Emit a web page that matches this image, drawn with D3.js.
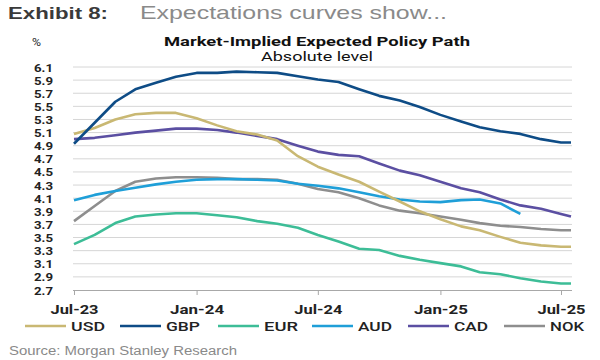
<!DOCTYPE html>
<html><head><meta charset="utf-8">
<script src="https://cdn.jsdelivr.net/npm/d3@7"></script>
<style>
body{margin:0;background:#fff;}
svg{display:block;}
</style></head>
<body>
<svg id="c" width="600" height="360"></svg>
<script>
const months = ["2023-07","2023-08","2023-09","2023-10","2023-11","2023-12","2024-01","2024-02","2024-03","2024-04","2024-05","2024-06","2024-07","2024-08","2024-09","2024-10","2024-11","2024-12","2025-01","2025-02","2025-03","2025-04","2025-05","2025-06","2025-07","2025-07-16"];
const usd = [5.08,5.17,5.30,5.38,5.40,5.40,5.32,5.21,5.12,5.07,4.98,4.74,4.58,4.46,4.35,4.20,4.05,3.90,3.78,3.67,3.61,3.51,3.42,3.38,3.36,3.36];
const gbp = [4.93,5.25,5.57,5.76,5.86,5.95,6.01,6.01,6.03,6.02,6.01,5.96,5.91,5.87,5.76,5.66,5.59,5.49,5.37,5.27,5.18,5.12,5.08,5.00,4.95,4.95];
const eur = [3.40,3.54,3.72,3.82,3.85,3.87,3.87,3.84,3.81,3.75,3.71,3.65,3.54,3.44,3.33,3.31,3.22,3.16,3.11,3.06,2.97,2.94,2.88,2.83,2.80,2.80];
const aud = [4.07,4.15,4.21,4.26,4.31,4.35,4.38,4.39,4.39,4.38,4.37,4.32,4.29,4.25,4.19,4.13,4.08,4.05,4.04,4.07,4.08,4.02,3.86,null,null,null];
const cad = [5.00,5.02,5.06,5.10,5.13,5.16,5.16,5.14,5.10,5.05,5.00,4.90,4.81,4.76,4.74,4.63,4.52,4.45,4.35,4.25,4.19,4.08,3.99,3.94,3.86,3.82];
const nok = [3.75,3.98,4.21,4.35,4.40,4.42,4.42,4.41,4.39,4.39,4.38,4.32,4.24,4.19,4.10,3.99,3.91,3.87,3.82,3.77,3.72,3.68,3.66,3.63,3.61,3.61];
const seriesNames = ["USD","GBP","EUR","AUD","CAD","NOK"];
const yTicks = [6.1,5.9,5.7,5.5,5.3,5.1,4.9,4.7,4.5,4.3,4.1,3.9,3.7,3.5,3.3,3.1,2.9,2.7];
const xTicks = ["2023-07","2024-01","2024-07","2025-01","2025-07"];
const xTickLabels = ["Jul-23","Jan-24","Jul-24","Jan-25","Jul-25"];

const colors = {USD:"#c9b873",GBP:"#0e4c86",EUR:"#3dbd97",AUD:"#1f9fd8",CAD:"#5b4fa2",NOK:"#8e8e8e"};
const values = {USD:usd,GBP:gbp,EUR:eur,AUD:aud,CAD:cad,NOK:nok};
const parse = s => s.length>7 ? d3.timeParse("%Y-%m-%d")(s) : d3.timeParse("%Y-%m")(s);
const dates = months.map(parse);

const svg = d3.select("#c");
const x = d3.scaleTime().domain([parse("2023-07"), parse("2025-07")]).range([74, 561]);
const y = d3.scaleLinear().domain([2.7, 6.1]).range([290, 67]);
const gridX0 = 73, gridX1 = 572;
const F = "Roboto, sans-serif";

function txt(xp, yp, s, size, opts={}) {
  const t = svg.append("text").attr("x",xp).attr("y",yp).attr("font-family",opts.family||F)
    .attr("font-size",size).attr("fill",opts.fill||"#111").text(s);
  if (opts.weight) t.attr("font-weight",opts.weight);
  if (opts.anchor) t.attr("text-anchor",opts.anchor);
  if (opts.len) t.attr("textLength",opts.len).attr("lengthAdjust","spacingAndGlyphs");
  return t;
}

// header
txt(8, 19, "Exhibit 8:", 17, {weight:"bold", fill:"#3a3a3a", family:"Liberation Sans, Arial, sans-serif", len:100});
txt(140, 19, "Expectations curves show...", 19, {fill:"#8a8a8a", family:"Liberation Sans, Arial, sans-serif", len:307});

// chart titles
txt(317, 46, "Market-Implied Expected Policy Path", 12.5, {weight:"bold", anchor:"middle", len:306});
txt(317, 60.5, "Absolute level", 12.5, {anchor:"middle", len:112});
txt(32, 46, "%", 11, {fill:"#222", len:9});

// gridlines
svg.append("g").selectAll("line").data(yTicks.filter(v=>v>2.7)).join("line")
  .attr("x1",gridX0).attr("x2",gridX1).attr("y1",d=>y(d)).attr("y2",d=>y(d))
  .attr("stroke","#d6d6d6").attr("stroke-width",1);

// y labels
svg.append("g").selectAll("text").data(yTicks).join("text")
  .attr("x",53).attr("y",d=>y(d)+4.5).attr("text-anchor","end")
  .attr("font-family",F).attr("font-size",11.5).attr("font-weight","bold").attr("fill","#222")
  .attr("textLength",19).attr("lengthAdjust","spacingAndGlyphs")
  .text(d=>d.toFixed(1));

// x axis
const xAxis = d3.axisBottom(x).tickValues(xTicks.map(parse)).tickSize(5).tickFormat((d,i)=>xTickLabels[i]);
const gx = svg.append("g").attr("transform","translate(0,290)").call(xAxis);
gx.select(".domain").attr("d",`M${gridX0},0.5H${gridX1}`).attr("stroke","#a8a8a8");
gx.selectAll(".tick line").attr("stroke","#a8a8a8");
gx.selectAll(".tick text").attr("font-family",F).attr("font-size",13).attr("font-weight","bold")
  .attr("fill","#222").attr("dy","1.2em").attr("textLength",(d,i)=>i%2? 54 : 48).attr("lengthAdjust","spacingAndGlyphs");

// lines
const line = d3.line().defined(d=>d[1]!=null).x(d=>x(d[0])).y(d=>y(d[1]));
const order = ["NOK","EUR","AUD","CAD","USD","GBP"];
svg.append("g").selectAll("path").data(order).join("path")
  .attr("d",k=>line(dates.map((dt,i)=>[dt,values[k][i]])))
  .attr("fill","none").attr("stroke",k=>colors[k]).attr("stroke-width",2.6).attr("stroke-linejoin","round");

// legend
const legX = [25,120,218,312,408,504];
const lg = svg.append("g").selectAll("g").data(seriesNames).join("g")
  .attr("transform",(d,i)=>`translate(${legX[i]},326)`);
lg.append("line").attr("x1",0).attr("x2",41).attr("y1",0).attr("y2",0).attr("stroke",d=>colors[d]).attr("stroke-width",2.6);
lg.append("text").attr("x",46).attr("y",5).attr("font-family",F).attr("font-size",13.5)
  .attr("font-weight",500).attr("fill","#222").attr("textLength",34).attr("lengthAdjust","spacingAndGlyphs").text(d=>d);

// source
txt(9, 355, "Source: Morgan Stanley Research", 12, {fill:"#8a8a8a", family:"Liberation Sans, Arial, sans-serif", len:228});
</script>
</body></html>
